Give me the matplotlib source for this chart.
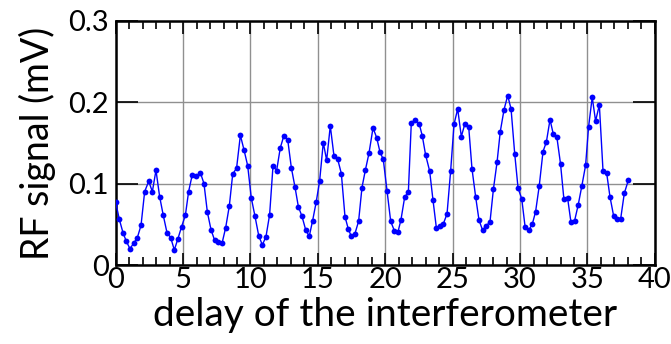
import matplotlib
matplotlib.use("Agg")
import matplotlib.pyplot as plt
from matplotlib.ticker import MultipleLocator

# delay positions and RF signal values
delay = [0.00, 0.27, 0.54, 0.79, 1.06, 1.33, 1.60, 1.88, 2.15, 2.45,
         2.72, 2.99, 3.26, 3.53, 3.81, 4.08, 4.35, 4.62, 4.89, 5.17,
         5.41, 5.68, 5.98, 6.28, 6.55, 6.80, 7.07, 7.34, 7.61, 7.89,
         8.16, 8.43, 8.68, 8.97, 9.25, 9.52, 9.79, 10.06, 10.33, 10.61,
         10.88, 11.15, 11.42, 11.67, 11.94, 12.21, 12.48, 12.76, 13.03, 13.30,
         13.55, 13.82, 14.09, 14.36, 14.61, 14.88, 15.13, 15.40, 15.65, 15.92,
         16.19, 16.47, 16.74, 17.01, 17.26, 17.48, 17.75, 18.02, 18.27, 18.52,
         18.79, 19.09, 19.36, 19.61, 19.85, 20.13, 20.40, 20.67, 20.94, 21.16,
         21.44, 21.71, 21.93, 22.23, 22.52, 22.75, 22.99, 23.29, 23.54, 23.79,
         24.06, 24.31, 24.58, 24.85, 25.10, 25.37, 25.64, 25.91, 26.19, 26.43,
         26.70, 26.95, 27.22, 27.50, 27.77, 28.02, 28.29, 28.53, 28.81, 29.08,
         29.33, 29.60, 29.85, 30.12, 30.37, 30.64, 30.91, 31.15, 31.42, 31.70,
         31.95, 32.22, 32.46, 32.73, 33.00, 33.25, 33.52, 33.77, 34.04, 34.31,
         34.58, 34.86, 35.08, 35.35, 35.60, 35.88, 36.15, 36.42, 36.67, 36.94,
         37.19, 37.46, 37.73, 38.03]

signal = [0.0773, 0.0564, 0.0401, 0.0294, 0.0204, 0.0270, 0.0335, 0.0490, 0.0904, 0.1030,
          0.0904, 0.1166, 0.0843, 0.0613, 0.0397, 0.0340, 0.0188, 0.0327, 0.0474, 0.0613,
          0.0904, 0.1110, 0.1090, 0.1137, 0.1002, 0.0654, 0.0438, 0.0307, 0.0290, 0.0270,
          0.0462, 0.0728, 0.1117, 0.1194, 0.1595, 0.1415, 0.1223, 0.0826, 0.0605, 0.0364,
          0.0249, 0.0352, 0.0622, 0.1219, 0.1162, 0.1440, 0.1591, 0.1542, 0.1198, 0.0961,
          0.0720, 0.0601, 0.0438, 0.0356, 0.0548, 0.0781, 0.1035, 0.1505, 0.1288, 0.1710,
          0.1346, 0.1300, 0.1125, 0.0597, 0.0442, 0.0356, 0.0389, 0.0540, 0.0953, 0.1166,
          0.1374, 0.1685, 0.1566, 0.1387, 0.1300, 0.0908, 0.0540, 0.0425, 0.0409, 0.0556,
          0.0838, 0.0896, 0.1750, 0.1783, 0.1734, 0.1583, 0.1354, 0.1157, 0.0798, 0.0458,
          0.0483, 0.0511, 0.0630, 0.1162, 0.1730, 0.1918, 0.1579, 0.1738, 0.1693, 0.1186,
          0.0843, 0.0556, 0.0429, 0.0483, 0.0536, 0.0933, 0.1264, 0.1640, 0.1910, 0.2082,
          0.1918, 0.1370, 0.0945, 0.0818, 0.0474, 0.0429, 0.0507, 0.0658, 0.0973, 0.1395,
          0.1513, 0.1787, 0.1611, 0.1570, 0.1243, 0.0810, 0.0830, 0.0532, 0.0544, 0.0740,
          0.0973, 0.1227, 0.1697, 0.2061, 0.1770, 0.1967, 0.1162, 0.1133, 0.0838, 0.0605,
          0.0569, 0.0569, 0.0883, 0.1043]

x_ticks = [0, 5, 10, 15, 20, 25, 30, 35, 40]
y_ticks = [0, 0.1, 0.2, 0.3]
y_tick_labels = ["0", "0.1", "0.2", "0.3"]

plt.rcParams['font.family'] = ['Lato', 'DejaVu Sans']

fig = plt.figure(figsize=(6.71, 3.44), dpi=100)
ax = fig.add_axes([0.1724, 0.2288, 0.8036, 0.7110])

ax.plot(delay, signal, '-o', color='#0000ff', lw=1.0, markersize=4.2,
        markeredgewidth=0, zorder=3)

ax.set_xlim(0, 40)
ax.set_ylim(0, 0.3)
ax.set_xticks(x_ticks)
ax.set_yticks(y_ticks)
ax.set_yticklabels(y_tick_labels)
ax.xaxis.set_minor_locator(MultipleLocator(1))

ax.grid(True, which='major', color='#909090', lw=1.0)
ax.tick_params(which='both', direction='in', top=True, right=True,
               labelsize=21, width=1.2, colors='black')
ax.tick_params(axis='x', which='major', length=9, pad=1)
ax.tick_params(axis='x', which='minor', length=6)
ax.tick_params(axis='y', which='major', length=16, pad=5)

for sp in ax.spines.values():
    sp.set_linewidth(1.8)

ax.set_xlabel("delay of the interferometer", fontsize=28, labelpad=3)
ax.set_ylabel("RF signal (mV)", fontsize=27, labelpad=9)

fig.savefig("out.png", dpi=100)
